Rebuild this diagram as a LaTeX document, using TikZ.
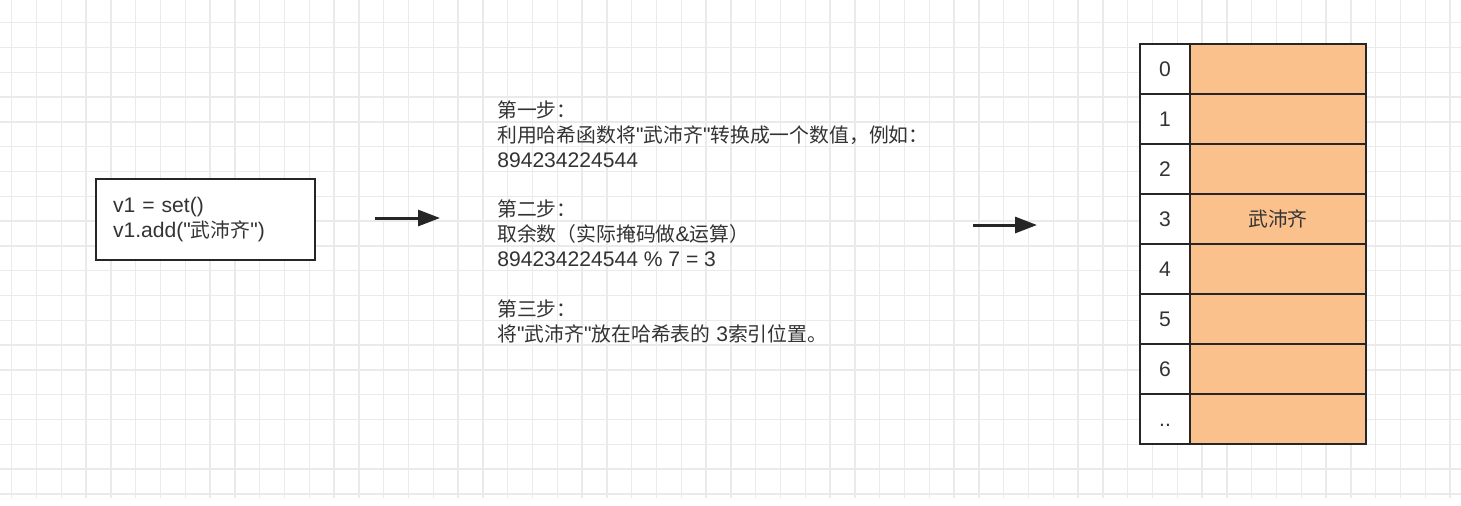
\documentclass[tikz,border=0pt]{standalone}
\usepackage{fontspec}
\newfontfamily\latnsans{Liberation Sans}
\newfontfamily\zhsans{Noto Sans CJK SC}[Scale=0.94]
\usepackage{xcolor}
\usepackage{tikz}
\usetikzlibrary{arrows.meta,positioning,calc}
\definecolor{inkdark}{HTML}{262626}
\definecolor{inktext}{HTML}{333333}
\definecolor{gridgray}{HTML}{EAEAEA}
\definecolor{slotorange}{HTML}{FBC18D}
\newcommand{\zh}[1]{{\zhsans #1}}

\begin{document}
\begin{tikzpicture}[
    x=0.02cm,y=-0.02cm,
    gridline/.style = {gridgray,line width=0.8pt},
    txt/.style      = {text=inktext,font=\latnsans\fontsize{12}{14.2}\selectfont},
    codebox/.style  = {txt,draw=inkdark,line width=1.6pt,fill=white,
                       minimum width=4.38cm,minimum height=1.62cm,
                       text width=3.7cm,inner xsep=0.34cm,align=left},
    steptxt/.style  = {txt,anchor=north west,inner sep=0pt,align=left},
    idxcell/.style  = {txt,draw=inkdark,line width=1.6pt,fill=white,
                       minimum width=1cm,minimum height=1cm,inner sep=0pt,
                       text height=0.9em,text depth=0pt},
    valcell/.style  = {txt,draw=inkdark,line width=1.6pt,fill=slotorange,
                       minimum width=3.52cm,minimum height=1cm,inner sep=0pt},
    flow/.style     = {draw=inkdark,line width=1.7pt,
                       -{Triangle[length=0.44cm,width=0.32cm]}},
  ]

  % Fond quadrillé
  \fill[white] (0,0) rectangle (1461,505);
  \useasboundingbox (0,0) rectangle (1461,505);
  \foreach \gx in {0,...,58}
    \draw[gridline] ({11.7+24.8*\gx},0) -- ({11.7+24.8*\gx},498);
  \foreach \gy in {0,...,19}
    \draw[gridline] (0,{22.7+24.8*\gy}) -- (1461,{22.7+24.8*\gy});

  % Code Python
  \node[codebox] (code) at (205.5,219.5)
       {v1 = set()\\ v1.add("\zh{武沛齐}")};

  \coordinate (a1s) at (375,218);
  \coordinate (a1e) at (440,218);
  \draw[flow] (a1s) -- (a1e);

  % Les trois étapes
  \node[steptxt] (steps) at (497,100)
       {\zh{第一步：}\\
        \zh{利用哈希函数将}"\zh{武沛齐}"\zh{转换成一个数值，例如：}\\
        894234224544\\[0.5cm]
        \zh{第二步：}\\
        \zh{取余数（实际掩码做}\&\zh{运算）}\\
        894234224544 \% 7 = 3\\[0.5cm]
        \zh{第三步：}\\
        \zh{将}"\zh{武沛齐}"\zh{放在哈希表的} 3\zh{索引位置。}};

  \coordinate (a2s) at (973,225);
  \coordinate (a2e) at (1037,225);
  \draw[flow] (a2s) -- (a2e);

  % Table de hachage
  \foreach \i/\lbl in {0/0,1/1,2/2,3/3,4/4,5/5,6/6,7/{..}} {
    \node[idxcell] (idx\i) at (1165,{69+50*\i}) {\lbl};
    \node[valcell] (val\i) at (1278,{69+50*\i}) {};
  }
  \node[txt] (slot3) at (val3) {\zh{武沛齐}};

\end{tikzpicture}
\end{document}
